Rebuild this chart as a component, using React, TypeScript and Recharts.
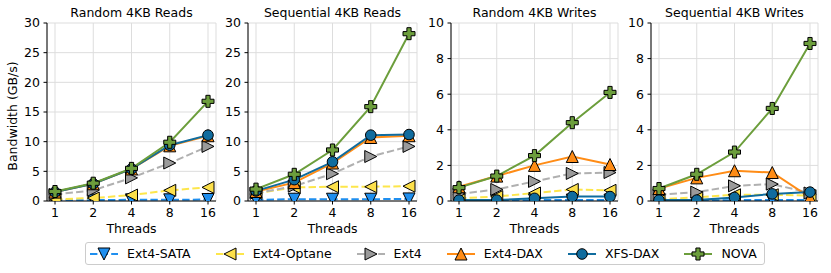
import React from 'react';
import { LineChart, Line, XAxis, YAxis, CartesianGrid } from 'recharts';

const threads = ['1', '2', '4', '8', '16'];

// Random 4KB Reads
const rrSata = [0.1, 0.15, 0.2, 0.2, 0.25];
const rrOptane = [0.3, 0.5, 1.0, 1.8, 2.3];
const rrExt4 = [1.1, 1.8, 3.9, 6.4, 9.2];
const rrDax = [1.5, 2.9, 5.4, 9.3, 11.0];
const rrXfs = [1.5, 2.9, 5.4, 9.4, 11.1];
const rrNova = [1.6, 3.0, 5.5, 9.9, 16.8];

// Sequential 4KB Reads
const srSata = [0.2, 0.3, 0.3, 0.3, 0.35];
const srOptane = [1.3, 2.3, 2.4, 2.4, 2.5];
const srExt4 = [1.3, 2.5, 4.6, 7.5, 9.2];
const srDax = [1.6, 3.1, 6.4, 10.7, 11.0];
const srXfs = [1.7, 3.6, 6.6, 11.1, 11.2];
const srNova = [2.0, 4.5, 8.6, 15.9, 28.2];

// Random 4KB Writes
const rwSata = [0.02, 0.03, 0.05, 0.05, 0.05];
const rwOptane = [0.15, 0.25, 0.45, 0.65, 0.6];
const rwExt4 = [0.4, 0.65, 1.1, 1.55, 1.6];
const rwDax = [0.8, 1.4, 2.0, 2.5, 2.05];
const rwXfs = [0.05, 0.05, 0.15, 0.25, 0.25];
const rwNova = [0.75, 1.4, 2.55, 4.4, 6.1];

// Sequential 4KB Writes
const swSata = [0.02, 0.03, 0.05, 0.05, 0.05];
const swOptane = [0.1, 0.2, 0.35, 0.35, 0.3];
const swExt4 = [0.35, 0.5, 0.85, 0.95, 0.45];
const swDax = [0.7, 1.3, 1.7, 1.6, 0.2];
const swXfs = [0.05, 0.05, 0.2, 0.4, 0.5];
const swNova = [0.7, 1.5, 2.75, 5.2, 8.85];

const readTicks = [0, 5, 10, 15, 20, 25, 30];
const writeTicks = [0, 2, 4, 6, 8, 10];

const FONT = "'DejaVu Sans', sans-serif";
const FS = 12.5;

type Shape = 'down' | 'left' | 'right' | 'up' | 'circle' | 'plus';

const SERIES: { key: string; name: string; color: string; fill: string; dashed: boolean; shape: Shape }[] = [
  { key: 'sata', name: 'Ext4-SATA', color: '#1f8fef', fill: '#1f8fef', dashed: true, shape: 'down' },
  { key: 'optane', name: 'Ext4-Optane', color: '#fde64b', fill: '#fde04a', dashed: true, shape: 'left' },
  { key: 'ext4', name: 'Ext4', color: '#b0b0b0', fill: '#9a9a9a', dashed: true, shape: 'right' },
  { key: 'dax', name: 'Ext4-DAX', color: '#ff8c16', fill: '#ff8c16', dashed: false, shape: 'up' },
  { key: 'xfs', name: 'XFS-DAX', color: '#106c9e', fill: '#106c9e', dashed: false, shape: 'circle' },
  { key: 'nova', name: 'NOVA', color: '#6c9e3c', fill: '#6c9e3c', dashed: false, shape: 'plus' },
];

const PANELS = [
  { title: 'Random 4KB Reads', left: 47, width: 169, yMax: 30, ticks: readTicks,
    vals: { sata: rrSata, optane: rrOptane, ext4: rrExt4, dax: rrDax, xfs: rrXfs, nova: rrNova } },
  { title: 'Sequential 4KB Reads', left: 248, width: 169, yMax: 30, ticks: readTicks,
    vals: { sata: srSata, optane: srOptane, ext4: srExt4, dax: srDax, xfs: srXfs, nova: srNova } },
  { title: 'Random 4KB Writes', left: 451, width: 167, yMax: 10, ticks: writeTicks,
    vals: { sata: rwSata, optane: rwOptane, ext4: rwExt4, dax: rwDax, xfs: rwXfs, nova: rwNova } },
  { title: 'Sequential 4KB Writes', left: 651, width: 167, yMax: 10, ticks: writeTicks,
    vals: { sata: swSata, optane: swOptane, ext4: swExt4, dax: swDax, xfs: swXfs, nova: swNova } },
];

const PLOT_TOP = 23;
const PLOT_BOTTOM = 201;
const GUTTER = 40;

function Marker({ shape, cx, cy, fill }: { shape: Shape; cx: number; cy: number; fill: string }) {
  const s = 6;
  const common = { fill, stroke: '#000', strokeWidth: 1, strokeLinejoin: 'miter' as const };
  if (shape === 'circle') return <circle cx={cx} cy={cy} r={5.3} {...common} />;
  if (shape === 'plus') {
    const a = 6, b = 2.1;
    const d = `M${cx - b},${cy - a}H${cx + b}V${cy - b}H${cx + a}V${cy + b}H${cx + b}V${cy + a}H${cx - b}V${cy + b}H${cx - a}V${cy - b}H${cx - b}Z`;
    return <path d={d} {...common} />;
  }
  let pts = '';
  if (shape === 'up') pts = `${cx},${cy - s} ${cx - s},${cy + s} ${cx + s},${cy + s}`;
  if (shape === 'down') pts = `${cx},${cy + s} ${cx - s},${cy - s} ${cx + s},${cy - s}`;
  if (shape === 'left') pts = `${cx - s},${cy} ${cx + s},${cy - s} ${cx + s},${cy + s}`;
  if (shape === 'right') pts = `${cx + s},${cy} ${cx - s},${cy - s} ${cx - s},${cy + s}`;
  return <polygon points={pts} {...common} />;
}

const tickStyle = { fill: '#000', fontSize: FS, fontFamily: FONT };

function Panel({ panel }: { panel: (typeof PANELS)[number] }) {
  const rows = threads.map((t, i) => {
    const r: Record<string, number | string> = { t };
    SERIES.forEach((s) => {
      r[s.key] = (panel.vals as Record<string, number[]>)[s.key][i];
    });
    return r;
  });
  const width = GUTTER + panel.width + 5;
  const height = PLOT_BOTTOM + 30;
  return (
    <div style={{ position: 'absolute', left: panel.left - GUTTER, top: 0 }}>
      <LineChart width={width} height={height} data={rows} margin={{ top: PLOT_TOP, right: 5, left: 0, bottom: 0 }}>
        <CartesianGrid stroke="#dddddd" strokeWidth={1} />
        <XAxis
          dataKey="t"
          type="category"
          padding={{ left: 8, right: 8 }}
          height={30}
          tickSize={3.5}
          tickMargin={4}
          tick={tickStyle}
          axisLine={{ stroke: '#000' }}
          tickLine={{ stroke: '#000' }}
          interval={0}
        />
        <XAxis xAxisId="top" dataKey="t" orientation="top" height={0} tick={false} tickLine={false} padding={{ left: 8, right: 8 }} axisLine={{ stroke: '#000' }} />
        <YAxis
          type="number"
          domain={[0, panel.yMax]}
          ticks={panel.ticks}
          allowDataOverflow
          width={GUTTER}
          tickSize={3.5}
          tickMargin={3.5}
          tick={tickStyle}
          axisLine={{ stroke: '#000' }}
          tickLine={{ stroke: '#000' }}
          interval={0}
        />
        <YAxis yAxisId="r" orientation="right" width={0} tick={false} tickLine={false} axisLine={{ stroke: '#000' }} />
        {SERIES.map((s) => (
          <Line
            key={s.key}
            dataKey={s.key}
            name={s.name}
            type="linear"
            stroke={s.color}
            strokeWidth={2}
            strokeDasharray={s.dashed ? '7.4 3.2' : undefined}
            isAnimationActive={false}
            dot={(p: any) => <Marker key={`${s.key}-${p.index}`} shape={s.shape} cx={p.cx} cy={p.cy} fill={s.fill} />}
            activeDot={false}
          />
        ))}
      </LineChart>
    </div>
  );
}

function LegendIcon({ s }: { s: (typeof SERIES)[number] }) {
  return (
    <svg width={28} height={14} style={{ display: 'block' }}>
      <line x1={0} y1={7} x2={28} y2={7} stroke={s.color} strokeWidth={2} strokeDasharray={s.dashed ? '7.4 3.2' : undefined} />
      <Marker shape={s.shape} cx={14} cy={7} fill={s.fill} />
    </svg>
  );
}

export default function App() {
  const text = { fontFamily: FONT, fontSize: FS, color: '#000', whiteSpace: 'nowrap' as const };
  return (
    <div style={{ position: 'absolute', left: 0, top: 0, width: 831, height: 273, background: '#fff', overflow: 'hidden' }}>
      {PANELS.map((p) => (
        <React.Fragment key={p.title}>
          <div style={{ ...text, position: 'absolute', left: p.left, width: p.width, top: 7.4, lineHeight: `${FS}px`, textAlign: 'center' }}>
            {p.title}
          </div>
          <Panel panel={p} />
          <div style={{ ...text, position: 'absolute', left: p.left, width: p.width, top: 223.4, lineHeight: `${FS}px`, textAlign: 'center' }}>
            Threads
          </div>
        </React.Fragment>
      ))}
      <div
        style={{
          ...text,
          position: 'absolute',
          left: 13 - 100,
          top: 116 - 7,
          width: 200,
          height: 14,
          lineHeight: '14px',
          textAlign: 'center',
          transform: 'rotate(-90deg)',
        }}
      >
        Bandwidth (GB/s)
      </div>
      <div
        style={{
          position: 'absolute',
          left: 85,
          top: 242,
          width: 680,
          height: 23,
          boxSizing: 'border-box',
          border: '1px solid #cccccc',
          borderRadius: 3,
          display: 'flex',
          alignItems: 'center',
          paddingLeft: 4,
          background: '#fff',
        }}
      >
        {SERIES.map((s) => (
          <div key={s.key} style={{ display: 'flex', alignItems: 'center', marginRight: 25 }}>
            <LegendIcon s={s} />
            <span style={{ ...text, marginLeft: 9 }}>{s.name}</span>
          </div>
        ))}
      </div>
    </div>
  );
}
